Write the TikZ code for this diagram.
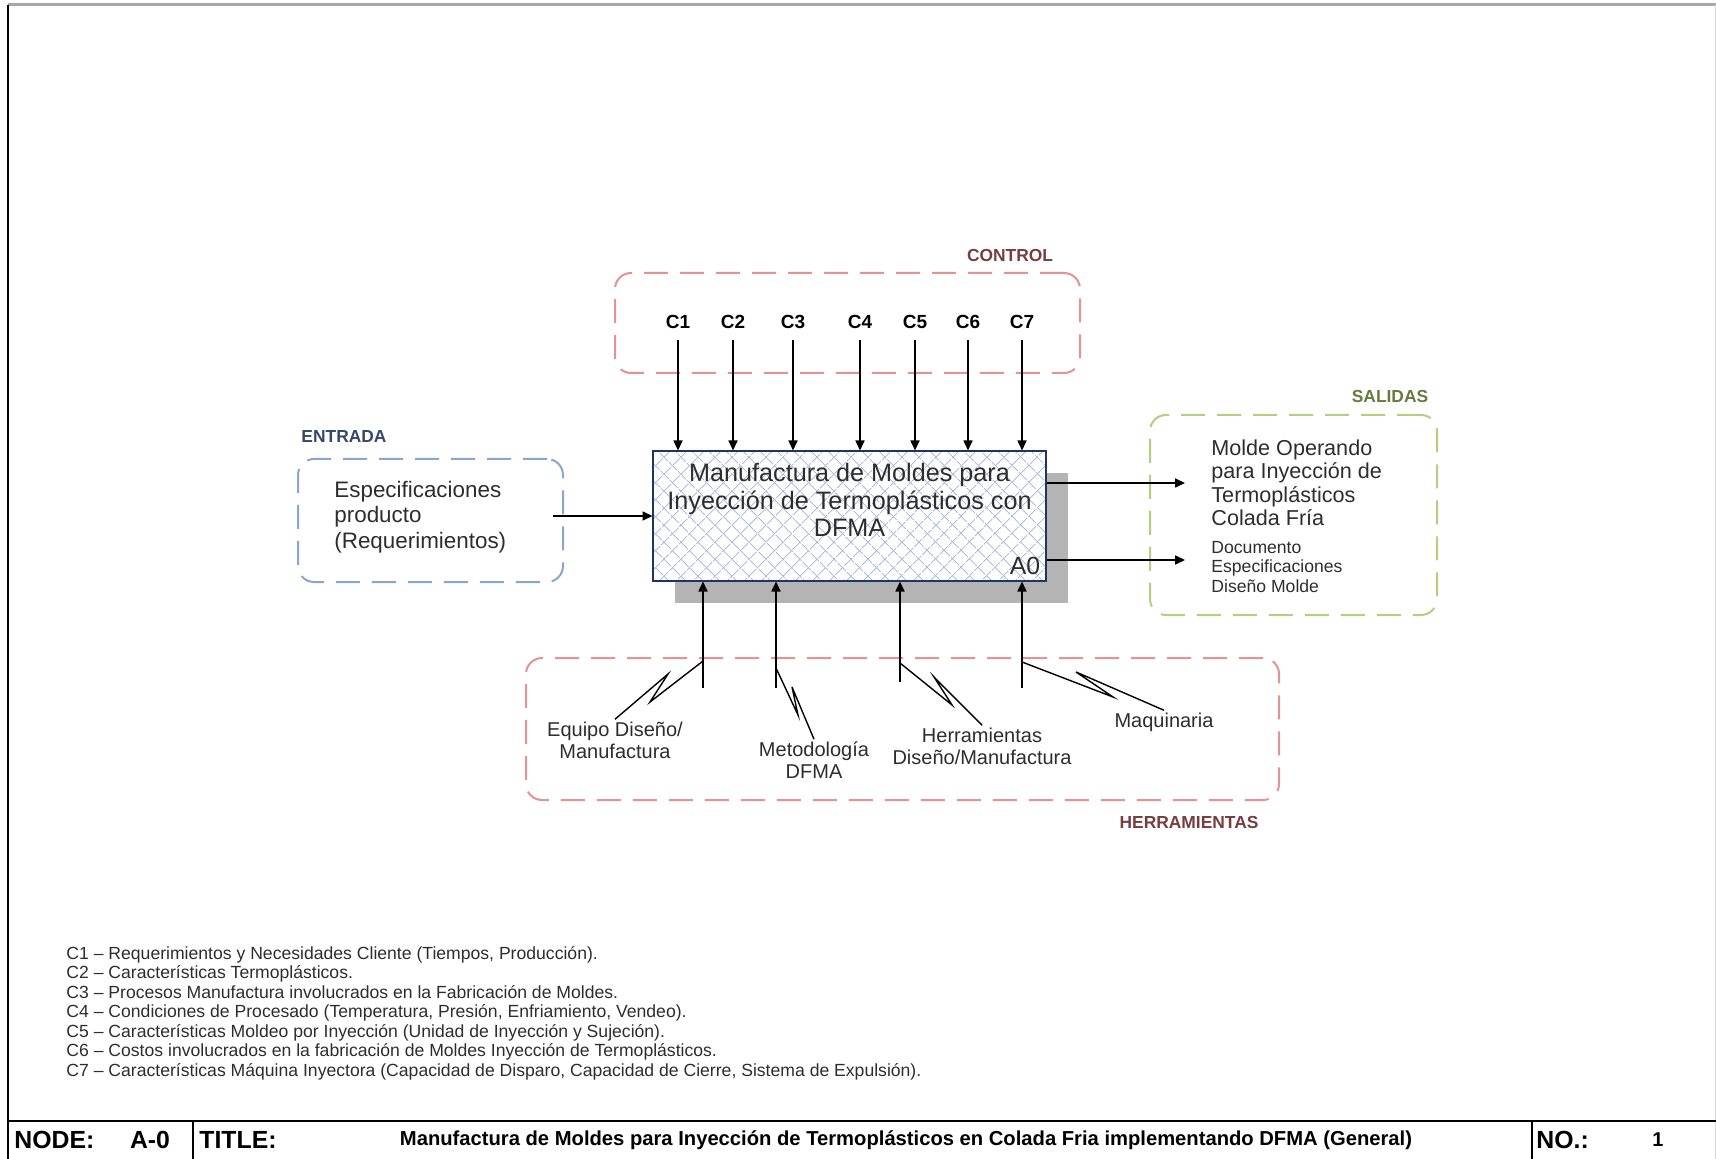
\documentclass[tikz,border=0pt]{standalone}
\usepackage{fontspec}
\setmainfont{Liberation Sans}
\usetikzlibrary{arrows.meta,patterns.meta,shadows,positioning,calc}

\definecolor{ctrlred}{RGB}{228,146,146}
\definecolor{inblue}{RGB}{138,166,208}
\definecolor{outgreen}{RGB}{180,208,126}
\definecolor{ctrltext}{RGB}{118,62,62}
\definecolor{intext}{RGB}{52,72,108}
\definecolor{outtext}{RGB}{104,122,62}
\definecolor{boxnavy}{RGB}{32,52,104}
\definecolor{hatchblue}{RGB}{170,188,224}
\definecolor{shadowgray}{RGB}{180,180,180}
\definecolor{textgray}{RGB}{45,45,45}

\newcommand{\fs}[2]{\fontsize{#1}{#2}\selectfont}

\begin{document}
\begin{tikzpicture}[x=0.5pt, y=-0.5pt,
    groupbox/.style={rounded corners=8pt, line width=1pt, dash pattern=on 12pt off 6pt},
    grplabel/.style={font=\bfseries\fs{8.7}{10}, inner sep=1pt},
    ctrllabel/.style={font=\bfseries\fs{9.5}{11}, inner sep=3pt},
    mechlabel/.style={align=center, font=\fs{10}{11}, text=textgray, inner sep=1pt},
    flow/.style={-{Triangle[length=5pt,width=4.5pt]}, line width=0.8pt},
    leader/.style={line width=0.7pt},
    tblock/.style={font=\bfseries\fs{12.4}{14}, inner sep=1pt}]
    \useasboundingbox (0,0) rectangle (1716,1159);

    % Frame
    \draw[gray!70, line width=1.5pt] (8,5) -- (1716,5);
    \draw[gray!30, line width=0.5pt] (1715,5) -- (1715,1159);
    \draw[line width=1.2pt] (8,5) -- (8,1159);
    \draw[line width=1.2pt] (8,1121) -- (1716,1121);
    \draw[line width=1.2pt] (193,1121) -- (193,1159);
    \draw[line width=1.2pt] (1532,1121) -- (1532,1159);

    % Groups
    \node (ctrl) [groupbox, draw=ctrlred, minimum width=232.5pt, minimum height=50pt] at (847.5,323) {};
    \node (entrada) [groupbox, draw=inblue, minimum width=132.5pt, minimum height=61.5pt] at (430.5,520.5) {};
    \node (salidas) [groupbox, draw=outgreen, minimum width=143.5pt, minimum height=100pt] at (1293.5,515) {};
    \node (tools) [groupbox, draw=ctrlred, minimum width=376.5pt, minimum height=71pt] at (902.5,729) {};

    \node (ctrllbl) [grplabel, text=ctrltext] at (1010,256) {CONTROL};
    \node (inlbl) [grplabel, text=intext] at (344,437) {ENTRADA};
    \node (outlbl) [grplabel, text=outtext] at (1390,397) {SALIDAS};
    \node (toollbl) [grplabel, text=ctrltext] at (1189,823) {HERRAMIENTAS};

    % Activity box
    \node (main) [draw=boxnavy, line width=1pt, minimum width=196.5pt, minimum height=65pt,
        general shadow={fill=shadowgray, shadow xshift=11pt, shadow yshift=-11pt},
        preaction={fill=white},
        preaction={pattern={Lines[angle=45,distance=6.4pt,line width=0.5pt]}, pattern color=hatchblue},
        pattern={Lines[angle=-45,distance=6.4pt,line width=0.5pt]}, pattern color=hatchblue] at (849.5,516) {};
    \node (maintxt) [align=center, font=\fs{12.6}{13.75}, text=textgray] at (849.5,500) {Manufactura de Moldes para\\Inyección de Termoplásticos con\\DFMA};
    \node (a0) [anchor=south east, font=\fs{12.4}{14}, text=textgray, inner sep=3pt] at (main.south east) {A0};

    % Input and outputs
    \node (intxt) [anchor=west, align=left, font=\fs{11.2}{12.75}, text=textgray, inner sep=2pt] at (330,517) {Especificaciones\\producto\\(Requerimientos)};
    \node (out1) [anchor=west, align=left, font=\fs{10.8}{11.75}, text=textgray, inner sep=2pt] at (1207,483) {Molde Operando\\para Inyección de\\Termoplásticos\\Colada Fría};
    \node (out2) [anchor=west, align=left, font=\fs{8.8}{9.85}, text=textgray, inner sep=2pt] at (1207,567) {Documento\\Especificaciones\\Diseño Molde};

    \coordinate (i1) at ([xshift=-5.5pt]entrada.east);
    \coordinate (o1) at ([xshift=-11pt]out1.west);
    \coordinate (o2) at ([xshift=-11pt,yshift=3.5pt]out2.west);
    \draw[flow] (i1 |- main.west) -- (main.west);
    \draw[flow] (main.east |- o1) -- (o1);
    \draw[flow] (main.east |- o2) -- (o2);

    % Controls
    \foreach \n/\xc in {1/678,2/733,3/793,4/860,5/915,6/968,7/1022} {
        \node (c\n) [ctrllabel] at (\xc,322) {C\n};
        \draw[flow] ([yshift=-2.5pt]c\n.south) -- (c\n.south |- main.north);
    }

    % Mechanisms
    \foreach \n/\xm/\ym in {1/703/688,2/776/688,3/900/682,4/1022/688} {
        \coordinate (m\n) at (\xm,\ym);
        \draw[flow] (m\n) -- (m\n |- main.south);
    }
    \node (equipo) [mechlabel] at (615,740) {Equipo Diseño/\\Manufactura};
    \node (metod) [mechlabel] at (814,760) {Metodología\\DFMA};
    \node (herr) [mechlabel] at (982,746) {Herramientas\\Diseño/Manufactura};
    \node (maq) [mechlabel] at (1164,722) {Maquinaria};

    \coordinate (j1) at (703,661);
    \coordinate (j2) at (776,668);
    \coordinate (j3) at (900,663);
    \coordinate (j4) at (1022,662);
    \draw[leader] (j1) -- ++(-53,41) -- ++(18,-28) -- (equipo.north);
    \draw[leader] (j2) -- ++(22,47) -- ++(-6,-28) -- (metod.north);
    \draw[leader] (j3) -- ++(52,42) -- ++(-18,-28) -- (herr.north);
    \draw[leader] (j4) -- ++(91,35) -- ++(-37,-25) -- (maq.north);

    % Legend
    \node (legend) [anchor=north west, align=left, font=\fs{8.8}{9.75}, text=textgray, inner sep=0pt] at (66,946) {%
        C1 – Requerimientos y Necesidades Cliente (Tiempos, Producción).\\
        C2 – Características Termoplásticos.\\
        C3 – Procesos Manufactura involucrados en la Fabricación de Moldes.\\
        C4 – Condiciones de Procesado (Temperatura, Presión, Enfriamiento, Vendeo).\\
        C5 – Características Moldeo por Inyección (Unidad de Inyección y Sujeción).\\
        C6 – Costos involucrados en la fabricación de Moldes Inyección de Termoplásticos.\\
        C7 – Características Máquina Inyectora (Capacidad de Disparo, Capacidad de Cierre, Sistema de Expulsión).};

    % Title block
    \node (nodelbl) [tblock, anchor=west] at (12,1140) {NODE:};
    \node (nodeval) [tblock] at (150,1140) {A-0};
    \node (titlelbl) [tblock, anchor=west] at (197,1140) {TITLE:};
    \node (titletxt) [tblock, font=\bfseries\fs{10.1}{12}] at (906,1140) {Manufactura de Moldes para Inyección de Termoplásticos en Colada Fria implementando DFMA (General)};
    \node (nolbl) [tblock, anchor=west] at (1534,1140) {NO.:};
    \node (noval) [tblock, font=\bfseries\fs{10}{12}] at (1658,1140) {1};
\end{tikzpicture}
\end{document}
